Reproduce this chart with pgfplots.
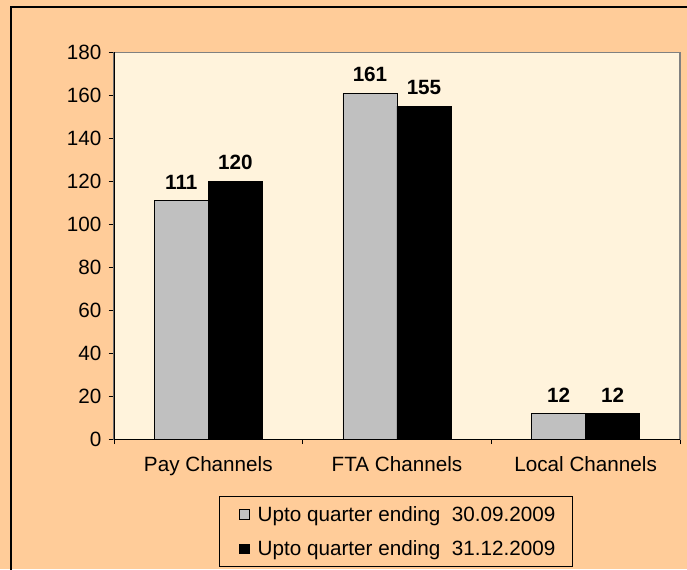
\documentclass[border=0pt]{standalone}
\usepackage{pgfplots}
\pgfplotsset{compat=1.18}
\usepackage{fontspec}
\setmainfont{Liberation Sans}
\definecolor{peach}{HTML}{FFCC99}
\definecolor{plotbg}{HTML}{FFF3DC}
\definecolor{bargray}{HTML}{C0C0C0}
\definecolor{framegray}{HTML}{808080}
\newcommand{\cf}{\fontsize{15.5}{18}\selectfont}
\begin{document}
\begin{tikzpicture}
\fill[peach] (0,0) rectangle (515.25pt,-426.75pt);
\useasboundingbox (0,0) rectangle (515.25pt,-426.75pt);
\draw[black, line width=1pt] (8.25pt,-430pt) -- (8.25pt,-5.25pt) -- (520pt,-5.25pt);
\begin{axis}[
  at={(85.5pt,-329.6pt)}, anchor=south west,
  scale only axis, width=424.5pt, height=290.25pt,
  xmin=-0.5, xmax=2.5, ymin=0, ymax=180,
  ytick={0,20,...,180},
  xtick={0,1,2},
  xticklabels={Pay Channels, FTA Channels, Local Channels},
  minor xtick={-0.5,0.5,1.5,2.5},
  xtick pos=bottom, ytick pos=left,
  major x tick style={draw=none},
  minor x tick style={black, line width=0.6pt},
  y tick style={black, line width=0.6pt},
  tick align=outside,
  major tick length=4pt, minor tick length=3.5pt,
  ticklabel style={font=\cf},
  /pgf/number format/assume math mode=true,
  xticklabel style={yshift=-5pt},
  yticklabel style={xshift=-2pt},
  axis background/.style={fill=plotbg},
  axis line style={draw=framegray, line width=1pt},
  ybar=0pt, bar width=40.5pt,
  nodes near coords,
  every node near coord/.append style={font=\cf\bfseries, yshift=5pt},
  legend style={at={(0.1855,-0.147)}, anchor=north west, draw=black, fill=none,
     font=\cf, line width=0.6pt, inner xsep=9pt, inner ysep=5pt, row sep=9pt,
     nodes={inner xsep=4pt}, legend cell align=left},
  legend image code/.code={\draw[#1, draw=black, line width=0.5pt] (6pt,-3.7pt) rectangle (13.5pt,3.7pt); \path[draw=none, fill=none] (0pt,0pt) -- (15.75pt,0pt);},
]
\addplot[fill=bargray, draw=black, line width=0.6pt] coordinates {(0,111) (1,161) (2,12)};
\addplot[fill=black, draw=black, line width=0.6pt] coordinates {(0,120) (1,155) (2,12)};
\legend{Upto quarter ending~~30.09.2009, Upto quarter ending~~31.12.2009}
\draw[black, line width=1pt] (rel axis cs:0,1) -- (rel axis cs:0,0) -- (rel axis cs:1,0);
\end{axis}
\end{tikzpicture}
\end{document}
